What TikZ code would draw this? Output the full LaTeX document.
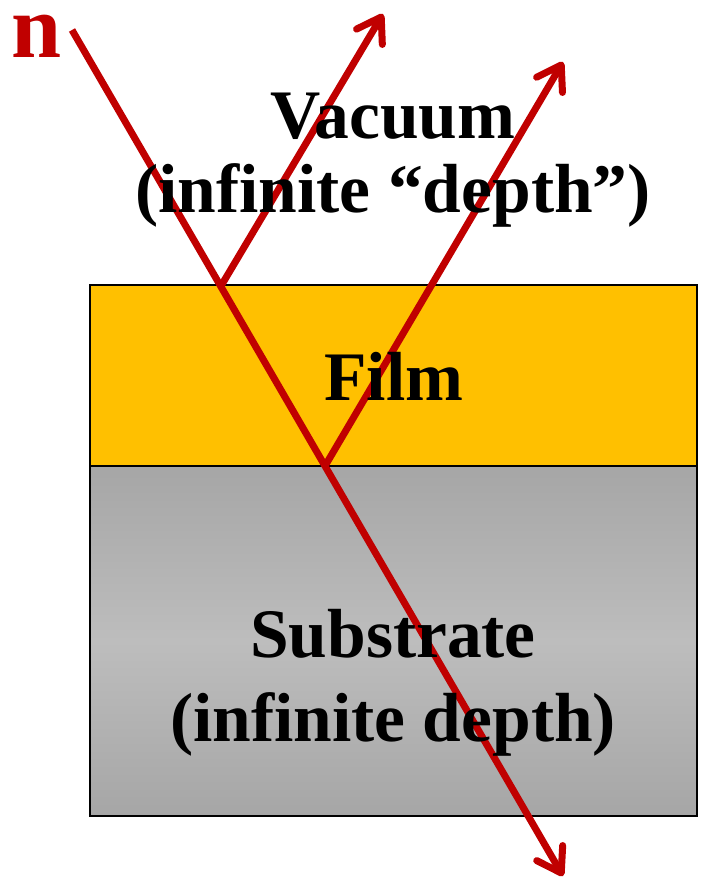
\documentclass[tikz,border=0pt]{standalone}
\usepackage{fontspec}
\setmainfont{Liberation Serif}
\usetikzlibrary{arrows.meta}
\definecolor{raycol}{HTML}{C00000}
\definecolor{filmcol}{HTML}{FFC000}
\definecolor{subdark}{HTML}{A6A6A6}
\definecolor{sublight}{HTML}{BDBDBD}
\begin{document}
\begin{tikzpicture}[x=1pt,y=-1pt,
  layerbox/.style={draw=black,line width=1.8pt},
  ray/.style={draw=raycol,line width=7pt,line cap=butt,line join=miter},
  rayarrow/.style={ray,-{Straight Barb[length=23pt,width=30pt,round]}},
  lbl/.style={font=\bfseries\fontsize{69.5}{69.5}\selectfont,anchor=base,inner sep=0pt}]
\useasboundingbox (0,0) rectangle (702,881);
% layers
\path[layerbox,fill=filmcol] (90,285) rectangle (697,466);
\path[layerbox,top color=subdark,bottom color=subdark,middle color=sublight] (90,466) rectangle (697,816);
% ray points
\coordinate (src) at (72,30);
\coordinate (hitA) at (221,286);
\coordinate (hitB) at (325,466);
\coordinate (tipT) at (563,876);
\coordinate (tipA) at (383,14);
\coordinate (tipB) at (563,62);
% rays
\draw[rayarrow] (src) -- (hitB) -- (tipT);
\draw[rayarrow] (hitA) -- (tipA);
\draw[rayarrow] (hitB) -- (tipB);
% labels (drawn over the rays)
\node[lbl] (vac1) at (393,138) {Vacuum};
\node[lbl] (vac2) at (393,212) {(infinite “depth”)};
\node[lbl] (film) at (394,400) {Film};
\node[lbl] (sub1) at (393,657) {Substrate};
\node[lbl] (sub2) at (393,741) {(infinite depth)};
\node[font=\bfseries\fontsize{90}{90}\selectfont,text=raycol,anchor=base,inner sep=0pt] (n) at (37,57) {n};
\end{tikzpicture}
\end{document}
